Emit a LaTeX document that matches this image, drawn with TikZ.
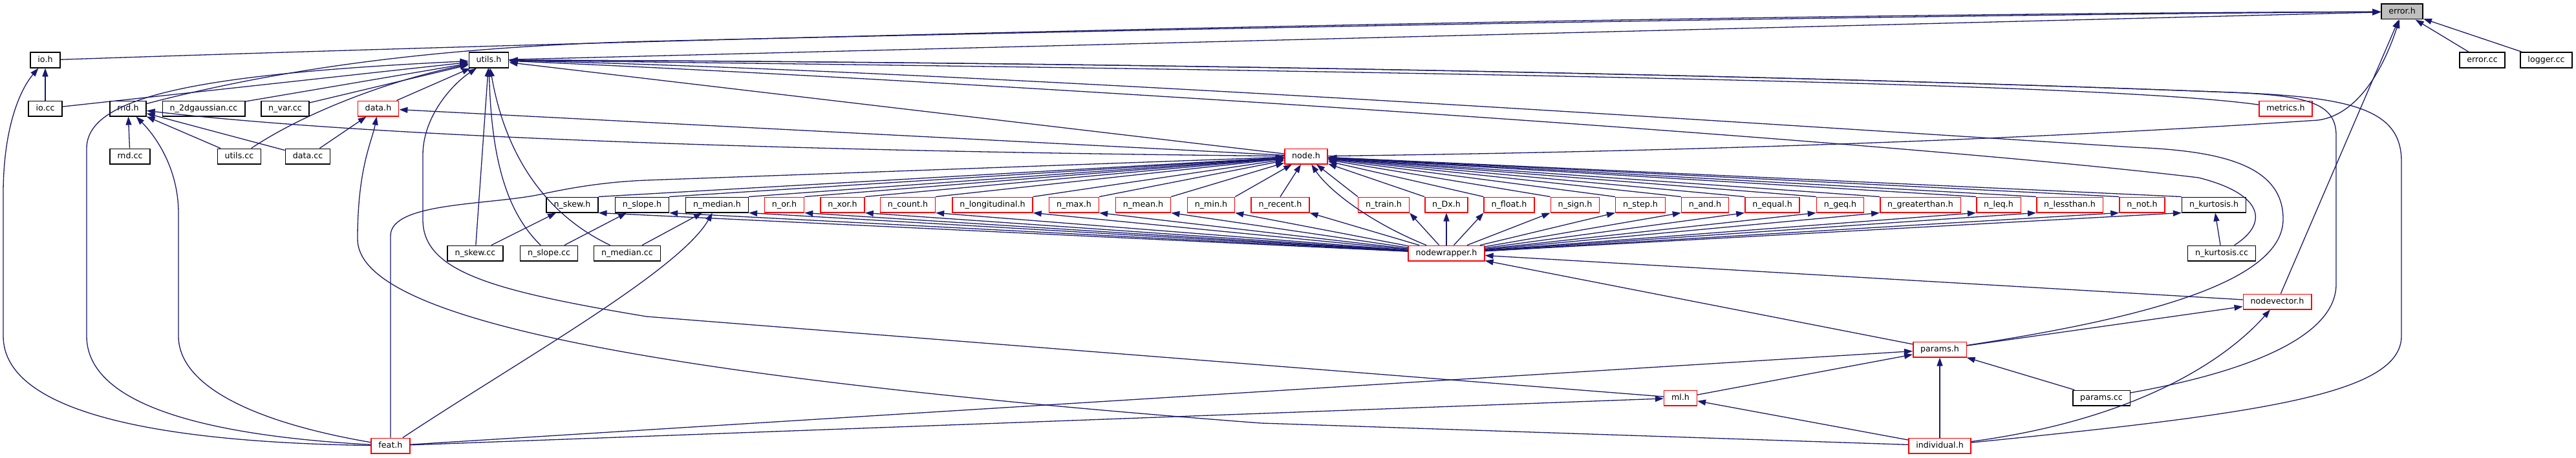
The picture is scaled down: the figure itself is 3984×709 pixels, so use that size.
\documentclass[tikz,border=0pt]{standalone}
\usepackage{fontspec}
\setmainfont{DejaVu Sans}
\usepackage{tikz}
\usetikzlibrary{arrows.meta}
\definecolor{edgeblue}{HTML}{191970}
\definecolor{boxred}{HTML}{FF0000}
\definecolor{rootgray}{HTML}{BFBFBF}
\tikzset{
    file/.style={
        rectangle,
        draw=black,
        line width=1.5pt,
        fill=white,
        align=center,
        inner xsep=11.4pt,
        inner ysep=0pt,
        minimum height=23.5pt,
        text height=9.6pt,
        text depth=2.8pt,
        font=\fontsize{12.66}{15}\selectfont % DejaVu at the doxygen size
    },
    redfile/.style={file, draw=boxred},
    rootfile/.style={file, fill=rootgray},
    dep/.style={->, draw=edgeblue, line width=1.3pt},
    >={Triangle[length=13pt, width=9pt]}
}

\begin{document}
\begin{tikzpicture}[x=1pt, y=-1pt]
    \useasboundingbox (0,0) rectangle (3984,709);

    \node (error) [rootfile] at (3715,18) {error.h};
    \node (io) [file] at (70,93) {io.h};
    \node (utils) [file] at (756,93) {utils.h};
    \node (errorcc) [file] at (3839,93) {error.cc};
    \node (loggercc) [file] at (3938,93) {logger.cc};
    \node (iocc) [file] at (70,168) {io.cc};
    \node (rnd) [file] at (198,168) {rnd.h};
    \node (gauss) [file] at (315,168) {n\_2dgaussian.cc};
    \node (nvar) [file] at (441,168) {n\_var.cc};
    \node (data) [redfile] at (585,168) {data.h};
    \node (metrics) [redfile] at (3535,168) {metrics.h};
    \node (rndcc) [file] at (201,242) {rnd.cc};
    \node (utilscc) [file] at (370,242) {utils.cc};
    \node (datacc) [file] at (476,242) {data.cc};
    \node (node) [redfile] at (2020,242) {node.h};

    \node (nskew) [file] at (885,317) {n\_skew.h};
    \node (nslope) [file] at (993,317) {n\_slope.h};
    \node (nmedian) [file] at (1109,317) {n\_median.h};
    \node (nor) [redfile] at (1213,317) {n\_or.h};
    \node (nxor) [redfile] at (1303,317) {n\_xor.h};
    \node (ncount) [redfile] at (1404,317) {n\_count.h};
    \node (nlong) [redfile] at (1535,317) {n\_longitudinal.h};
    \node (nmax) [redfile] at (1661,317) {n\_max.h};
    \node (nmean) [redfile] at (1768,317) {n\_mean.h};
    \node (nmin) [redfile] at (1873,317) {n\_min.h};
    \node (nrecent) [redfile] at (1980,317) {n\_recent.h};
    \node (ntrain) [redfile] at (2140,317) {n\_train.h};
    \node (ndx) [redfile] at (2237,317) {n\_Dx.h};
    \node (nfloat) [redfile] at (2334,317) {n\_float.h};
    \node (nsign) [redfile] at (2436,317) {n\_sign.h};
    \node (nstep) [redfile] at (2537,317) {n\_step.h};
    \node (nand) [redfile] at (2637,317) {n\_and.h};
    \node (nequal) [redfile] at (2741,317) {n\_equal.h};
    \node (ngeq) [redfile] at (2846,317) {n\_geq.h};
    \node (ngreater) [redfile] at (2970,317) {n\_greaterthan.h};
    \node (nleq) [redfile] at (3091,317) {n\_leq.h};
    \node (nless) [redfile] at (3201,317) {n\_lessthan.h};
    \node (nnot) [redfile] at (3313,317) {n\_not.h};
    \node (nkurt) [file] at (3424,317) {n\_kurtosis.h};

    \node (nskewcc) [file] at (735,392) {n\_skew.cc};
    \node (nslopecc) [file] at (849,392) {n\_slope.cc};
    \node (nmediancc) [file] at (970,392) {n\_median.cc};
    \node (wrapper) [redfile] at (2237,392) {nodewrapper.h};
    \node (nkurtcc) [file] at (3436,392) {n\_kurtosis.cc};
    \node (nodevector) [redfile] at (3522,467) {nodevector.h};
    \node (params) [redfile] at (3000,541) {params.h};
    \node (ml) [redfile] at (2599,616) {ml.h};
    \node (paramscc) [file] at (3250,616) {params.cc};
    \node (feat) [redfile] at (604,690) {feat.h};
    \node (individual) [redfile] at (3000,690) {individual.h};

    % into error.h
    \draw [dep] (io) .. controls (1200,55) and (2600,22) .. (error);
    \draw [dep] (rnd) .. controls (450,102) and (700,72) .. (1000,64) .. controls (1800,45) and (2800,25) .. (error);
    \draw [dep] (utils) -- (error);
    \draw [dep] (node) .. controls (2800,232) and (3300,205) .. (3585,186) .. controls (3645,178) and (3685,110) .. (error);
    \draw [dep] (nodevector) -- (error);
    \draw [dep] (errorcc) -- (error);
    \draw [dep] (loggercc) -- (error);

    % into io.h
    \draw [dep] (iocc) -- (io);
    \draw [dep] (feat) .. controls (250,685) and (5,640) .. (5,520) -- (5,300) .. controls (5,200) and (30,140) .. (io);

    % into utils.h
    \draw [dep] (iocc) -- (utils);
    \draw [dep] (feat) .. controls (330,675) and (134,630) .. (134,520) -- (134,230) .. controls (134,150) and (300,115) .. (utils);
    \draw [dep] (gauss) -- (utils);
    \draw [dep] (nvar) -- (utils);
    \draw [dep] (utilscc) .. controls (470,175) and (600,125) .. (utils);
    \draw [dep] (data) -- (utils);
    \draw [dep] (nskewcc) -- (utils);
    \draw [dep] (nslopecc) .. controls (785,330) and (760,250) .. (utils);
    \draw [dep] (nmediancc) .. controls (860,340) and (785,260) .. (utils);
    \draw [dep] (ml) -- (1000,490) .. controls (760,450) and (654,420) .. (654,340) -- (654,240) .. controls (654,180) and (700,130) .. (utils);
    \draw [dep] (node) -- (utils);
    \draw [dep] (metrics) .. controls (3300,135) and (2600,115) .. (utils);
    \draw [dep] (paramscc) .. controls (3480,575) and (3613,520) .. (3613,440) -- (3613,210) .. controls (3613,160) and (3570,148) .. (3450,143) .. controls (2600,110) and (1500,95) .. (utils);
    \draw [dep] (individual) .. controls (3500,640) and (3714,610) .. (3714,520) -- (3714,250) .. controls (3714,170) and (3640,150) .. (3450,143) .. controls (2600,110) and (1500,95) .. (utils);
    \draw [dep] (params) .. controls (3300,495) and (3530,440) .. (3531,340) .. controls (3532,250) and (3420,233) .. (3300,228) .. controls (2700,190) and (1500,110) .. (utils);
    \draw [dep] (nkurtcc) .. controls (3510,345) and (3500,300) .. (3400,275) .. controls (2900,215) and (1500,125) .. (utils);

    % into rnd.h and data.h
    \draw [dep] (rndcc) -- (rnd);
    \draw [dep] (feat) .. controls (400,655) and (276,600) .. (276,520) -- (276,330) .. controls (276,260) and (240,210) .. (rnd);
    \draw [dep] (utilscc) -- (rnd);
    \draw [dep] (datacc) -- (rnd);
    \draw [dep] (node) .. controls (1300,235) and (600,215) .. (rnd);
    \draw [dep] (datacc) -- (data);
    \draw [dep] (node) -- (data);
    \draw [dep] (individual) -- (1950,655) .. controls (900,575) and (553,480) .. (553,370) .. controls (553,260) and (575,220) .. (data);

    % ml.h, params.h, nodevector.h, nodewrapper.h
    \draw [dep] (feat) -- (ml);
    \draw [dep] (individual) -- (ml);
    \draw [dep] (feat) -- (params);
    \draw [dep] (ml) -- (params);
    \draw [dep] (individual) -- (params);
    \draw [dep] (paramscc) -- (params);
    \draw [dep] (params) -- (nodevector);
    \draw [dep] (individual) .. controls (3300,650) and (3440,560) .. (nodevector);
    \draw [dep] (params) -- (wrapper);
    \draw [dep] (nodevector) -- (wrapper);

    % into node.h
    \draw [dep] (feat) -- (604,365) .. controls (604,312) and (760,318) .. (840,300) .. controls (900,287) and (950,281) .. (1000,279) -- (node);
    \draw [dep] (wrapper) .. controls (2120,345) and (2055,295) .. (node);
    \draw [dep] (nskew.north east) -- (node);
    \draw [dep] (nslope.north east) -- (node);
    \draw [dep] (nmedian.north east) -- (node);
    \draw [dep] (nor.north east) -- (node);
    \draw [dep] (nxor.north east) -- (node);
    \draw [dep] (ncount.north east) -- (node);
    \draw [dep] (nlong.north east) -- (node);
    \draw [dep] (nmax.north east) -- (node);
    \draw [dep] (nmean.north east) -- (node);
    \draw [dep] (nmin.north east) -- (node);
    \draw [dep] (nrecent.north) -- (node);
    \draw [dep] (ntrain.north west) -- (node);
    \draw [dep] (ndx.north west) -- (node);
    \draw [dep] (nfloat.north west) -- (node);
    \draw [dep] (nsign.north west) -- (node);
    \draw [dep] (nstep.north west) -- (node);
    \draw [dep] (nand.north west) -- (node);
    \draw [dep] (nequal.north west) -- (node);
    \draw [dep] (ngeq.north west) -- (node);
    \draw [dep] (ngreater.north west) -- (node);
    \draw [dep] (nleq.north west) -- (node);
    \draw [dep] (nless.north west) -- (node);
    \draw [dep] (nnot.north west) -- (node);
    \draw [dep] (nkurt.north west) -- (node);

    % nodewrapper.h into the n_ headers
    \draw [dep] (wrapper) -- (nskew.south east);
    \draw [dep] (wrapper) -- (nslope.south east);
    \draw [dep] (wrapper) -- (nmedian.south east);
    \draw [dep] (wrapper) -- (nor.south east);
    \draw [dep] (wrapper) -- (nxor.south east);
    \draw [dep] (wrapper) -- (ncount.south east);
    \draw [dep] (wrapper) -- (nlong.south east);
    \draw [dep] (wrapper) -- (nmax.south east);
    \draw [dep] (wrapper) -- (nmean.south east);
    \draw [dep] (wrapper) -- (nmin.south east);
    \draw [dep] (wrapper) -- (nrecent.south east);
    \draw [dep] (wrapper) -- (ntrain.south east);
    \draw [dep] (wrapper) -- (ndx);
    \draw [dep] (wrapper) -- (nfloat.south west);
    \draw [dep] (wrapper) -- (nsign.south west);
    \draw [dep] (wrapper) -- (nstep.south west);
    \draw [dep] (wrapper) -- (nand.south west);
    \draw [dep] (wrapper) -- (nequal.south west);
    \draw [dep] (wrapper) -- (ngeq.south west);
    \draw [dep] (wrapper) -- (ngreater.south west);
    \draw [dep] (wrapper) -- (nleq.south west);
    \draw [dep] (wrapper) -- (nless.south west);
    \draw [dep] (wrapper) -- (nnot.south west);
    \draw [dep] (wrapper) -- (nkurt.south west);

    % sources into their headers
    \draw [dep] (nskewcc) -- (nskew);
    \draw [dep] (nslopecc) -- (nslope);
    \draw [dep] (nmediancc) -- (nmedian);
    \draw [dep] (nkurtcc) -- (nkurt);
    \draw [dep] (feat) .. controls (800,560) and (1050,420) .. (nmedian);
\end{tikzpicture}
\end{document}
